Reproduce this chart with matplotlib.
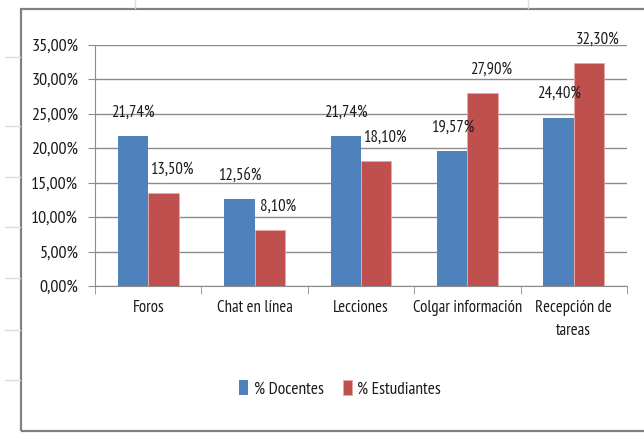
import matplotlib
matplotlib.use('Agg')
import numpy as np
from matplotlib import pyplot as plt
from matplotlib.lines import Line2D
from matplotlib.patches import Rectangle

categories = ['Foros', 'Chat en línea', 'Lecciones', 'Colgar información', 'Recepción de\ntareas']
docentes = [21.74, 12.56, 21.74, 19.57, 24.40]
estudiantes = [13.50, 8.10, 18.10, 27.90, 32.30]
yticks = [0, 5, 10, 15, 20, 25, 30, 35]

plt.rcParams['font.family'] = ['PT Sans Narrow', 'DejaVu Sans']
blue = '#4F81BD'
red = '#C0504D'
txt = '#1a1a1a'


def pct(v):
    return ('%.2f%%' % v).replace('.', ',')


W, H = 644, 433
fig = plt.figure(figsize=(W / 100, H / 100), dpi=100)

# spreadsheet cell lines behind the chart
for y in [57, 126, 177, 227, 278, 330, 380]:
    fig.add_artist(Line2D([5 / W, 20 / W], [1 - y / H, 1 - y / H], color='#dcdcdc', lw=1))
for xx in [135, 528]:
    fig.add_artist(Line2D([xx / W, xx / W], [1.0, 1 - 8 / H], color='#dcdcdc', lw=1))

# chart frame
fig.add_artist(Rectangle((21 / W, 2 / H), 1.0, (431 - 9) / H, fill=False,
                         edgecolor='#808080', lw=1.6))

ax = fig.add_axes([95 / W, (H - 286) / H, (627 - 95) / W, (286 - 44.5) / H])
x = np.arange(len(categories))
bw = 1 / 3.5
ax.bar(x - bw / 2, docentes, bw, color=blue, label='% Docentes', zorder=3)
ax.bar(x + bw / 2, estudiantes, bw, color=red, label='% Estudiantes', zorder=3,
       edgecolor='#e8a9a7', linewidth=0.6)

for i in range(len(categories)):
    ax.annotate(pct(docentes[i]), (x[i] - bw / 2, docentes[i]), xytext=(0, 17),
                textcoords='offset points', ha='center', va='center', fontsize=12, color=txt)
    ax.annotate(pct(estudiantes[i]), (x[i] + bw / 2, estudiantes[i]), xytext=(6, 17),
                textcoords='offset points', ha='center', va='center', fontsize=12, color=txt)

ax.set_xlim(-0.5, len(categories) - 0.5)
ax.set_ylim(0, 35)
ax.set_yticks(yticks)
ax.set_yticklabels([pct(v) for v in yticks], fontsize=13, color=txt)
ax.yaxis.grid(True, color='#8c8c8c', lw=1, zorder=0)
ax.set_axisbelow(True)
ax.set_xticks(x)
ax.set_xticklabels(categories, fontsize=12, linespacing=1.6, color=txt)
ax.set_xticks(np.arange(-0.5, len(categories)), minor=True)
ax.tick_params(axis='x', which='major', length=0, pad=10)
ax.tick_params(axis='x', which='minor', length=6, color='#8c8c8c', direction='out')
ax.tick_params(axis='y', length=5, color='#8c8c8c', pad=7)
for s in ['top', 'right']:
    ax.spines[s].set_visible(False)
ax.spines['left'].set_color('#8c8c8c')
ax.spines['bottom'].set_color('#8c8c8c')

leg = fig.legend(loc='center', bbox_to_anchor=(340 / W, 1 - 389 / H), ncol=2, frameon=False,
                 fontsize=12.5, handlelength=0.55, handleheight=0.9, handletextpad=0.3,
                 columnspacing=1.1)
for t in leg.get_texts():
    t.set_color(txt)

fig.savefig('out.png', dpi=100)
